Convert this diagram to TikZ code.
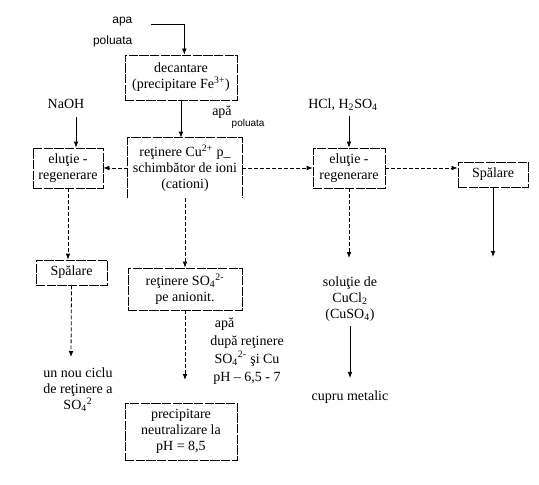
\documentclass[tikz,border=0pt]{standalone}
\usepackage{fontspec}
\setmainfont{Liberation Serif}
\setsansfont{Liberation Sans}
\usetikzlibrary{arrows.meta}
\usetikzlibrary{positioning}

\begin{document}
\begin{tikzpicture}[x=0.75pt, y=-0.75pt,
  font=\fontsize{10.5}{12}\selectfont,
  boxline/.style={line width=0.6pt, dash pattern=on 7pt off 1pt},
  box/.style={draw, boxline, align=center, inner sep=1.5pt},
  arr/.style={line width=0.6pt, -{Latex[length=4.5pt,width=3.5pt]}},
  darr/.style={arr, dash pattern=on 3pt off 1.5pt},
  sflabel/.style={font=\sffamily\fontsize{9}{16}\selectfont, inner sep=1pt}]

\useasboundingbox (0,0) rectangle (539,485);

% --- Intrare apa poluata ---
\node [sflabel, align=right, anchor=east] (apa) at (134,32) {apa\\poluata};
\coordinate (apaStart) at (151,24);

\node [box, minimum width=84pt, minimum height=33.75pt] (decantare) at (181,77.5)
      {decantare\\(precipitare Fe\textsuperscript{3+})};

\draw [arr] (apaStart) -| ([xshift=2.5pt]decantare.north);

% --- Schimbator de ioni (cationi) ---
\node [align=center, inner sep=1pt, minimum width=85.5pt, minimum height=45pt] (cationi) at (185,168)
      {reţinere Cu\textsuperscript{2+} p\_\\schimbător de ioni\\(cationi)};
\draw [boxline] (cationi.south west) -- (cationi.north west)
                -- (cationi.north east) -- (cationi.south east);

\draw [arr] (decantare.south) -- (decantare.south |- cationi.north);
\node [anchor=base west, inner sep=0pt] (apaPol) at (212,116)
      {apă\raisebox{-8pt}{\sffamily\fontsize{7.5}{9}\selectfont poluata}};

% --- Ramura stanga (NaOH) ---
\node (naoh) at (66,104) {NaOH};
\coordinate (naohIn) at (76,117);
\node [box, minimum width=52.5pt, minimum height=30pt] (elutieL) at (68,168) {eluţie -\\regenerare};
\node [box, minimum width=53.25pt, minimum height=18.75pt] (spalareL) at (71.5,272.5) {Spălare};
\node [align=center] (ciclu) at (78,390)
      {un nou ciclu\\de reţinere a\\SO\textsubscript{4}\textsuperscript{2}};
\coordinate (cicluIn) at (71,357);

\draw [arr] (naohIn) -- (naohIn |- elutieL.north);
\draw [darr] (cationi.west) -- (elutieL.east);
\draw [darr] (elutieL.south) -- (elutieL.south |- spalareL.north);
\draw [darr] (spalareL.south) -- (cicluIn);

% --- Ramura dreapta (HCl, H2SO4) ---
\node (hcl) at (343,105) {HCl, H\textsubscript{2}SO\textsubscript{4}};
\node [box, minimum width=54pt, minimum height=30pt] (elutieR) at (349,168) {eluţie -\\regenerare};
\node [box, minimum width=52.5pt, minimum height=18.75pt] (spalareR) at (493,174.5) {Spălare};
\coordinate (outR) at (493,257);
\node [align=center] (solutie) at (350,299)
      {soluţie de\\CuCl\textsubscript{2}\\(CuSO\textsubscript{4})};
\node (cupru) at (350,397) {cupru metalic};

\draw [arr] (elutieR.north |- hcl.south) -- (elutieR.north);
\draw [darr] (cationi.east) -- (elutieR.west);
\draw [darr] (elutieR.east) -- (elutieR.east -| spalareR.west);
\draw [arr] (spalareR.south) -- (outR);
\draw [darr] (elutieR.south) -- (elutieR.south |- 0,258);
\draw [arr] (solutie.south) -- ([yshift=6pt]cupru.north);

% --- Coloana din mijloc (anionit) ---
\node [box, minimum width=85.5pt, minimum height=31.5pt] (anionit) at (185,289)
      {reţinere SO\textsubscript{4}\textsuperscript{2-}\\pe anionit.};
\coordinate (anionitOut) at (185,380);
\node [align=center, font=\fontsize{10.5}{13.5}\selectfont] (apaDupa) at (247,351)
      {apă\hspace*{3.2em}\\după reţinere\\SO\textsubscript{4}\textsuperscript{2-} şi Cu\\pH – 6,5 - 7};
\node [box, minimum width=84pt, minimum height=42.75pt] (precipitare) at (181,431.5)
      {precipitare\\neutralizare la\\pH = 8,5};

\draw [darr] (cationi.south) -- (anionit.north);
\draw [darr] (anionit.south) -- (anionitOut);

\end{tikzpicture}
\end{document}
